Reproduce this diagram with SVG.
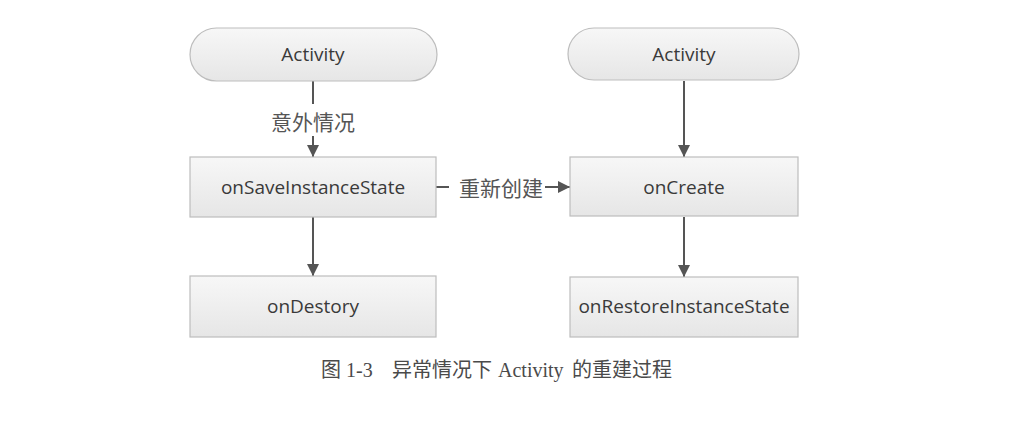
<svg xmlns="http://www.w3.org/2000/svg" width="1020" height="424" viewBox="0 0 1020 424">
<style>
.box{fill:url(#g);stroke:#bdbdbd;stroke-width:1.2}
.t{font-family:"Open Sans","Noto Sans",sans-serif;font-size:19px;fill:#3a3a3a;text-anchor:middle;dominant-baseline:central}
.lbl{font-family:"Noto Sans CJK SC",sans-serif;font-size:21px;fill:#555;text-anchor:middle;dominant-baseline:central}
.ln{stroke:#555;stroke-width:2;fill:none}
.cap{font-family:"Liberation Serif","Noto Sans CJK SC",serif;font-size:20px;fill:#4a4a4a}
</style>
<defs>
<linearGradient id="g" x1="0" y1="0" x2="0" y2="1">
<stop offset="0" stop-color="#f7f7f7"/>
<stop offset="1" stop-color="#e6e6e6"/>
</linearGradient>
<marker id="ah" viewBox="0 0 12 12" refX="12" refY="6" markerWidth="12" markerHeight="12" orient="auto" markerUnits="userSpaceOnUse">
<path d="M0,0 L12,6 L0,12 z" fill="#555"/>
</marker>
</defs>
<rect width="1020" height="424" fill="#fff"/>
<g id="connectors">
<line class="ln" x1="313" y1="81" x2="313" y2="104"/>
<text class="lbl" x="313" y="121">意外情况</text>
<line class="ln" x1="313" y1="136" x2="313" y2="157" marker-end="url(#ah)"/>
<line class="ln" x1="313" y1="217" x2="313" y2="276" marker-end="url(#ah)"/>
<line class="ln" x1="436" y1="187" x2="449" y2="187"/>
<text class="lbl" x="501" y="187">重新创建</text>
<line class="ln" x1="545" y1="187" x2="570" y2="187" marker-end="url(#ah)"/>
<line class="ln" x1="684" y1="81" x2="684" y2="157" marker-end="url(#ah)"/>
<line class="ln" x1="684" y1="217" x2="684" y2="277" marker-end="url(#ah)"/>
</g>
<g id="activity-left">
<rect class="box" x="190" y="28" width="247" height="53" rx="26.5"/>
<text class="t" x="313" y="54">Activity</text>
</g>
<g id="onSaveInstanceState">
<rect class="box" x="190" y="157" width="246" height="60"/>
<text class="t" x="313" y="187">onSaveInstanceState</text>
</g>
<g id="onDestory">
<rect class="box" x="190" y="276" width="246" height="61"/>
<text class="t" x="313" y="306">onDestory</text>
</g>
<g id="activity-right">
<rect class="box" x="568" y="28" width="231" height="52" rx="26"/>
<text class="t" x="684" y="54">Activity</text>
</g>
<g id="onCreate">
<rect class="box" x="570" y="157" width="228" height="59"/>
<text class="t" x="684" y="187">onCreate</text>
</g>
<g id="onRestoreInstanceState">
<rect class="box" x="570" y="277" width="228" height="60"/>
<text class="t" x="684" y="306">onRestoreInstanceState</text>
</g>
<text class="cap" y="377"><tspan x="321">图 1-3</tspan><tspan x="392">异常情况下</tspan><tspan x="498">Activity</tspan><tspan x="572">的重建过程</tspan></text>
</svg>
